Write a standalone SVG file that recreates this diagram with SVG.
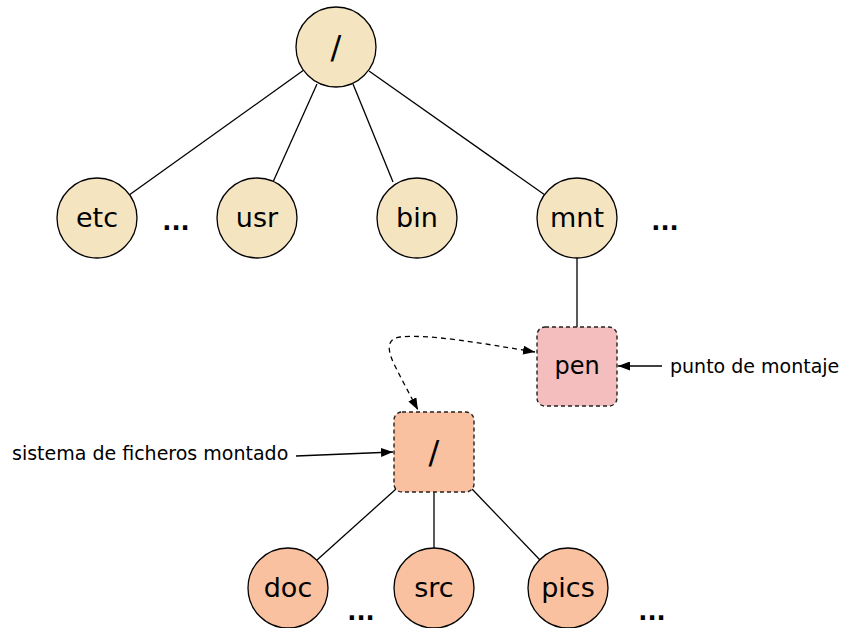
<svg xmlns="http://www.w3.org/2000/svg" width="844" height="628" viewBox="0 0 844 628">
<style>
.top{fill:#f5e4c0;stroke:#000;stroke-width:1.3}
.bot{fill:#f9c19f;stroke:#000;stroke-width:1.3}
.pen{fill:#f4bdbe;stroke:#222;stroke-width:1.4;stroke-dasharray:4,3}
.mnt2{fill:#f9c19f;stroke:#222;stroke-width:1.4;stroke-dasharray:4,3}
.lbl{font-family:"DejaVu Sans",sans-serif;font-size:27px;text-anchor:middle;fill:#000}
.sl{font-family:"DejaVu Sans",sans-serif;font-size:32px;text-anchor:middle;fill:#000}
.dots{font-family:"DejaVu Sans",sans-serif;font-size:24px;font-weight:bold;text-anchor:middle;fill:#000}
.note{font-family:"DejaVu Sans",sans-serif;font-size:19px;fill:#000}
.edge{stroke:#000;stroke-width:1.3;fill:none}
.dash{stroke:#000;stroke-width:1.3;fill:none;stroke-dasharray:5,4}
</style>
<defs>
<marker id="ah" viewBox="0 0 12 9" refX="12" refY="4.5" markerWidth="12" markerHeight="9" markerUnits="userSpaceOnUse" orient="auto">
<path d="M0,0 L12,4.5 L0,9 z" fill="#000"/>
</marker>
<marker id="ahs" viewBox="0 0 12 9" refX="0" refY="4.5" markerWidth="12" markerHeight="9" markerUnits="userSpaceOnUse" orient="auto">
<path d="M12,0 L0,4.5 L12,9 z" fill="#000"/>
</marker>
</defs>
<g id="connectors">
<line class="edge" x1="303.5" y1="70.3" x2="129.5" y2="194.7"/>
<line class="edge" x1="317" y1="84" x2="273" y2="182"/>
<line class="edge" x1="353" y1="84" x2="393" y2="182"/>
<line class="edge" x1="369" y1="71" x2="545" y2="195"/>
<line class="edge" x1="577" y1="257" x2="577" y2="327"/>
<line class="edge" x1="396" y1="489" x2="317" y2="560"/>
<line class="edge" x1="434" y1="492" x2="434" y2="548"/>
<line class="edge" x1="472" y1="489" x2="540" y2="560"/>
<path class="dash" d="M535,352 C480,343 430,334 400,337 C385,339 388,352 395,366 C402,380 410,395 418,410" marker-end="url(#ah)" marker-start="url(#ahs)"/>
<line class="edge" x1="662" y1="366" x2="618" y2="366" marker-end="url(#ah)"/>
<line class="edge" x1="296" y1="456" x2="393" y2="452" marker-end="url(#ah)"/>
</g>
<g id="root"><circle class="top" cx="336" cy="47" r="40"/><text class="sl" x="336" y="58">/</text></g>
<g id="etc"><circle class="top" cx="97" cy="218" r="40"/><text class="lbl" x="97" y="227">etc</text></g>
<g id="usr"><circle class="top" cx="257" cy="218" r="40"/><text class="lbl" x="257" y="227">usr</text></g>
<g id="bin"><circle class="top" cx="417" cy="218" r="40"/><text class="lbl" x="417" y="227">bin</text></g>
<g id="mnt"><circle class="top" cx="577" cy="218" r="40"/><text class="lbl" x="577" y="227">mnt</text></g>
<g id="dots1"><text class="dots" x="176" y="230">...</text></g>
<g id="dots2"><text class="dots" x="665" y="230">...</text></g>
<g id="pen"><rect class="pen" x="537" y="327" width="80" height="79" rx="8"/><text class="lbl" x="577" y="374" style="font-size:24px">pen</text></g>
<g id="mounted-root"><rect class="mnt2" x="394" y="412" width="80" height="80" rx="8"/><text class="sl" x="434" y="463">/</text></g>
<g id="doc"><circle class="bot" cx="288" cy="588" r="40"/><text class="lbl" x="288" y="597">doc</text></g>
<g id="src"><circle class="bot" cx="434" cy="588" r="40"/><text class="lbl" x="434" y="597">src</text></g>
<g id="pics"><circle class="bot" cx="568" cy="588" r="40"/><text class="lbl" x="568" y="597">pics</text></g>
<g id="dots3"><text class="dots" x="361" y="620">...</text></g>
<g id="dots4"><text class="dots" x="652" y="620">...</text></g>
<g id="note-pen"><text class="note" x="670" y="373">punto de montaje</text></g>
<g id="note-fs"><text class="note" x="12" y="460">sistema de ficheros montado</text></g>
</svg>
